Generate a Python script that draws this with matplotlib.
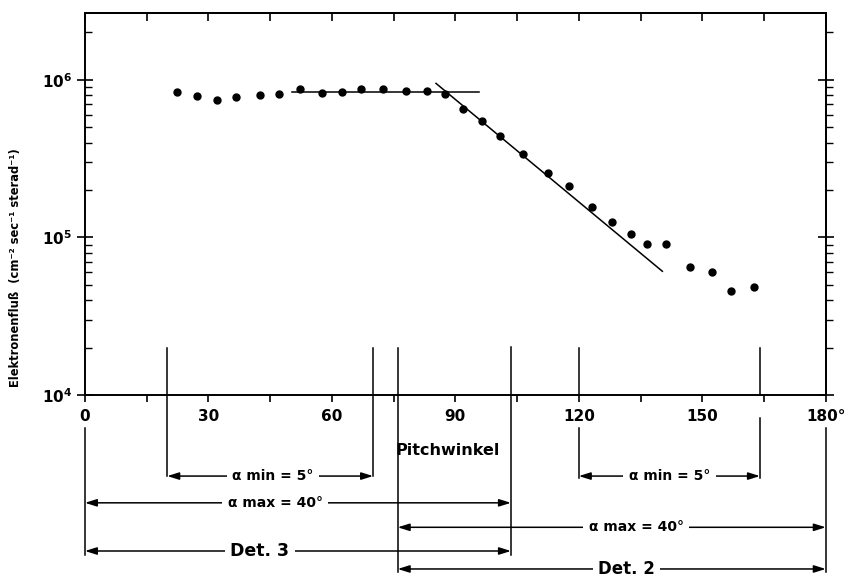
import numpy as np
import matplotlib.pyplot as plt
from matplotlib.ticker import FixedLocator, LogLocator, NullFormatter

# Messpunkte (Pitchwinkel in Grad, Elektronenfluss)
angle = [22.3, 27.1, 32.1, 36.7, 42.5, 47.2, 52.2, 57.6, 62.5, 67.1, 72.3, 78.0,
         83.1, 87.6, 91.9, 96.4, 100.9, 106.4, 112.4, 117.7, 123.1, 128.0, 132.6,
         136.6, 141.3, 147.0, 152.4, 156.9, 162.6]
flux = [8.34e5, 7.9e5, 7.47e5, 7.75e5, 8.03e5, 8.18e5, 8.77e5, 8.3e5, 8.43e5,
        8.77e5, 8.7e5, 8.47e5, 8.47e5, 8.1e5, 6.55e5, 5.52e5, 4.43e5, 3.37e5,
        2.57e5, 2.11e5, 1.55e5, 1.25e5, 1.05e5, 9.1e4, 9.1e4, 6.46e4, 6.04e4,
        4.59e4, 4.82e4]

# Ausgleichsgeraden
plateau_x = [50.2, 95.8]
plateau_y = [8.34e5, 8.34e5]
slope_x = [85.3, 140.3]
slope_y = [9.5e5, 6.1e4]

# Detektorbereiche (Grad)
det3_min = [20, 70]
det3_max = [0, 103.5]
det2_min = [120, 164]
det2_max = [76, 180]

xtick_labels = ["0", "30", "60", "90", "120", "150", "180°"]

fig = plt.figure(figsize=(8.49, 5.77), dpi=100)
ax = fig.add_axes([0.1001, 0.3154, 0.8725, 0.6626])

ax.plot(angle, flux, "o", color="black", markersize=5)
ax.plot(plateau_x, plateau_y, color="black", lw=1.1)
ax.plot(slope_x, slope_y, color="black", lw=1.1)

ax.set_yscale("log")
ax.set_ylim(1e4, 2.67e6)
ax.set_xlim(0, 180)

# x-Achse
ax.xaxis.set_major_locator(FixedLocator(np.arange(0, 181, 30)))
ax.xaxis.set_minor_locator(FixedLocator(np.arange(15, 180, 30)))
ax.set_xticklabels(xtick_labels, fontsize=11, fontweight="bold")
ax.tick_params(axis="x", which="both", direction="out", length=5, width=1.2, pad=5)
top = ax.secondary_xaxis("top")
top.set_xticks(np.arange(0, 181, 15))
top.tick_params(direction="in", length=6, width=1.2, labeltop=False)

# y-Achse
ax.set_yticks([1e4, 1e5, 1e6])
ax.set_yticklabels([r"$\mathbf{10^4}$", r"$\mathbf{10^5}$", r"$\mathbf{10^6}$"], fontsize=11)
ax.yaxis.set_minor_locator(LogLocator(base=10, subs=np.arange(2, 10)))
ax.yaxis.set_minor_formatter(NullFormatter())
ax.tick_params(axis="y", which="major", direction="inout", length=12, width=1.2, pad=3)
ax.tick_params(axis="y", which="minor", direction="in", length=5, width=1.0)
right = ax.secondary_yaxis("right")
right.tick_params(which="major", direction="inout", length=12, width=1.2, labelright=False)
right.tick_params(which="minor", direction="out", length=5, width=1.0)
right.yaxis.set_minor_formatter(NullFormatter())

for sp in ax.spines.values():
    sp.set_linewidth(1.4)
top.spines["top"].set_linewidth(1.4)
right.spines["right"].set_linewidth(1.4)

fig.text(16 / 849, 0.537, "Elektronenfluß  (cm⁻² sec⁻¹ sterad⁻¹)", rotation=90,
         ha="center", va="center", fontsize=8.3, fontweight="bold")

# Begrenzungslinien der Detektorbereiche (x in Grad, y in Achsenbruchteilen)
trans = ax.get_xaxis_transform()
vlines = [
    (det3_min[0], 0.123, -0.212),
    (det3_min[1], 0.123, -0.212),
    (det2_max[0], 0.123, -0.462),
    (det3_max[1], 0.125, -0.418),
    (det2_min[0], 0.123, 0.0),
    (det2_min[0], -0.086, -0.217),
    (det2_min[1], 0.123, 0.0),
    (det2_min[1], -0.06, -0.217),
    (det3_max[0], -0.086, -0.418),
    (det2_max[1], -0.086, -0.462),
]
for x, y0, y1 in vlines:
    ax.plot([x, x], [y0, y1], color="black", lw=1.1, transform=trans, clip_on=False)


def span(x0, x1, y, label, xt, size=10):
    ax.annotate("", xy=(x0, y), xytext=(x1, y), xycoords=trans, textcoords=trans,
                annotation_clip=False,
                arrowprops=dict(arrowstyle="<|-|>,head_length=0.7,head_width=0.22",
                                color="black", lw=1.1, shrinkA=0, shrinkB=0,
                                mutation_scale=10))
    ax.text(xt, y, label, transform=trans, ha="center", va="center",
            fontsize=size, fontweight="bold",
            bbox=dict(facecolor="white", edgecolor="none", pad=4))


span(det3_min[0], det3_min[1], -0.212, "α min = 5°", 45.7)
span(det3_max[0], det3_max[1], -0.282, "α max = 40°", 46.2)
span(det2_max[0], det2_max[1], -0.346, "α max = 40°", 134.0)
span(det3_max[0], det3_max[1], -0.408, "Det. 3", 42.5, size=12.5)
span(det2_min[0], det2_min[1], -0.212, "α min = 5°", 142.0)
span(det2_max[0], det2_max[1], -0.455, "Det. 2", 131.6, size=12)

ax.text(88.2, -0.144, "Pitchwinkel", transform=trans, ha="center", va="center",
        fontsize=11.5, fontweight="bold")

fig.savefig("out.png", dpi=100)
